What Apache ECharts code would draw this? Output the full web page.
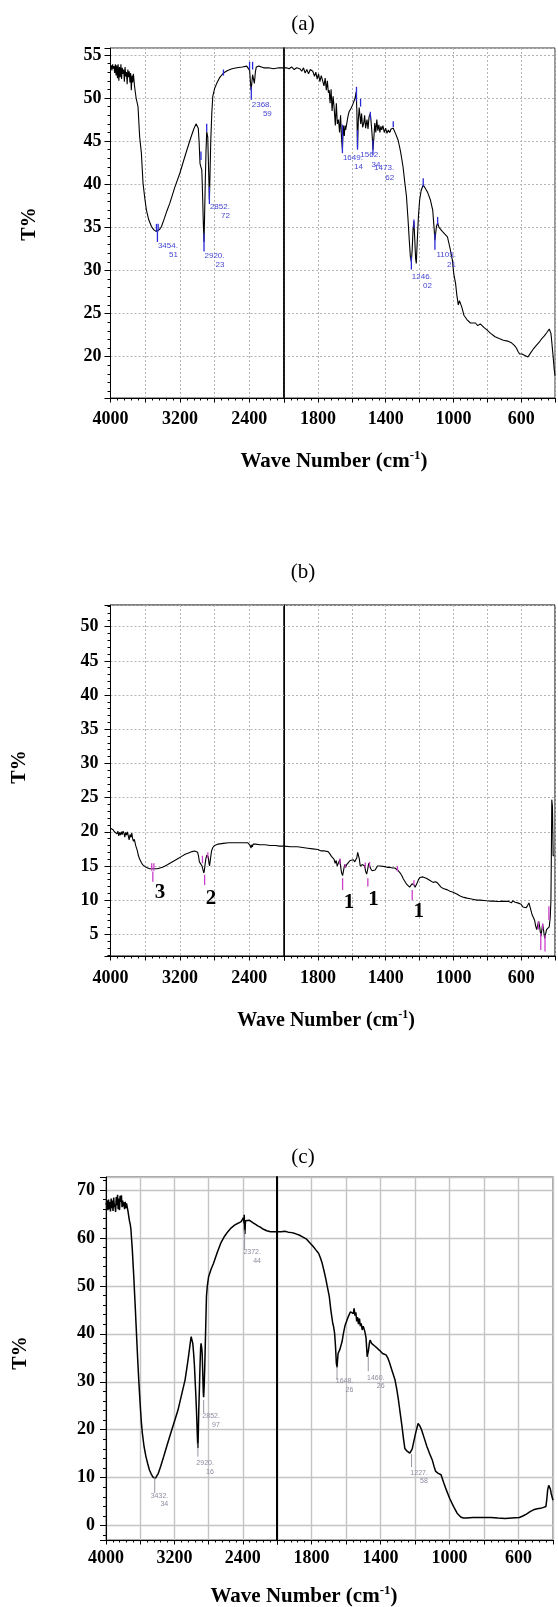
<!DOCTYPE html>
<html><head><meta charset="utf-8">
<script src="https://cdn.jsdelivr.net/npm/echarts@6/dist/echarts.min.js"></script>
<style>html,body{margin:0;padding:0;background:#fff}#c{width:558px;height:1607px}</style>
</head><body><div id="c"></div>
<script>
// ---------- DATA ----------
// x tick labels shown
const leftTickLabels = [4000, 3200, 2400];
const rightTickLabels = [1800, 1400, 1000, 600];
const panelTitles = ['(a)', '(b)', '(c)'];
const yTitle = 'T%';
const xTitle = 'Wave Number (cm';

// Spectrum (a): [wavenumber, T%]
const specA = [
[4000,53.5],[3992,53.8],[3984,53.2],[3976,53.9],[3968,53.4],[3960,53.7],[3952,52.9],[3944,53.9],[3936,52.6],[3928,53.8],[3920,52.3],[3912,53.9],[3904,52.0],[3896,53.6],[3888,52.4],[3880,53.9],[3872,52.2],[3864,53.5],[3856,52.8],[3848,53.3],[3840,51.9],[3832,53.6],[3824,52.5],[3816,53.0],[3808,51.6],[3800,53.3],[3792,52.4],[3784,53.1],[3776,51.8],[3768,52.9],[3760,50.9],[3752,52.6],[3744,51.8],[3736,52.8],[3722,51.3],[3705,50.0],[3683,49.0],[3664,45.5],[3644,43.6],[3625,40.1],[3605,38.4],[3586,37.0],[3560,35.9],[3528,35.1],[3500,34.7],[3470,34.5],[3450,34.5],[3430,34.8],[3412,35.1],[3380,36.0],[3350,36.9],[3316,37.8],[3260,39.6],[3200,41.3],[3140,43.3],[3084,45.1],[3040,46.4],[3014,47.0],[2998,46.9],[2988,46.5],[2978,44.8],[2968,42.4],[2958,42.0],[2948,41.7],[2942,40.0],[2937,38.2],[2930,35.5],[2922,33.3],[2915,36.5],[2907,40.5],[2899,43.8],[2891,46.1],[2885,46.2],[2879,45.5],[2870,42.0],[2860,38.2],[2852,41.5],[2844,45.1],[2832,48.3],[2821,50.2],[2800,51.1],[2775,51.7],[2740,52.4],[2698,52.9],[2650,53.2],[2600,53.4],[2543,53.5],[2480,53.6],[2430,53.7],[2408,53.6],[2396,53.2],[2388,52.0],[2380,50.9],[2372,51.6],[2362,52.7],[2352,52.6],[2342,51.7],[2330,53.0],[2319,53.6],[2290,53.7],[2260,53.6],[2234,53.5],[2180,53.5],[2120,53.4],[2060,53.5],[2000,53.5],
[1985,53.5],[1970,53.4],[1955,53.6],[1940,53.3],[1925,53.5],[1907,53.4],[1895,53.1],[1885,53.5],[1875,52.9],[1865,53.3],[1855,52.8],[1845,53.3],[1830,53.1],[1820,52.5],[1812,53.0],[1804,52.2],[1796,52.8],[1788,51.9],[1780,52.6],[1771,52.5],[1764,51.4],[1757,52.3],[1750,50.9],[1744,52.0],[1738,50.6],[1733,50.9],[1728,49.4],[1722,51.0],[1716,48.5],[1710,50.2],[1703,48.6],[1697,46.8],[1691,49.4],[1685,47.0],[1678,47.5],[1672,46.0],[1666,48.0],[1660,45.2],[1655,44.0],[1650,46.8],[1644,45.6],[1640,46.8],[1636,46.3],[1628,47.2],[1622,47.9],[1616,48.4],[1604,48.8],[1595,49.2],[1587,49.0],[1580,50.0],[1574,50.7],[1570,48.6],[1566,44.2],[1561,47.5],[1556,48.9],[1552,49.0],[1547,47.0],[1542,48.2],[1536,46.6],[1529,47.1],[1524,48.0],[1518,46.5],[1510,47.5],[1504,46.4],[1498,47.8],[1490,48.2],[1484,46.8],[1479,45.5],[1475,44.0],[1470,45.2],[1464,47.1],[1458,46.0],[1452,47.5],[1446,46.2],[1440,46.9],[1434,46.0],[1428,46.7],[1423,46.3],[1416,46.8],[1408,46.0],[1400,46.5],[1392,45.9],[1384,46.3],[1376,46.0],[1368,46.4],[1360,46.2],[1355,46.5],[1342,45.9],[1326,45.1],[1312,43.8],[1297,42.0],[1288,40.4],[1277,38.6],[1268,36.0],[1260,33.4],[1254,31.6],[1248,31.0],[1243,32.5],[1238,34.8],[1233,35.7],[1228,33.6],[1223,31.4],[1219,30.8],[1213,33.5],[1206,36.4],[1199,38.2],[1190,39.3],[1178,39.9],[1165,39.5],[1151,39.0],[1136,38.2],[1122,37.0],[1115,35.2],[1109,33.5],[1100,35.1],[1093,35.5],[1085,35.0],[1075,34.8],[1064,34.5],[1050,34.2],[1035,33.9],[1020,32.6],[1006,31.2],[997,29.5],[987,28.5],[980,27.2],[971,26.0],[964,26.5],[957,26.5],[948,25.6],[938,24.8],[920,24.3],[899,23.9],[884,23.9],[870,23.9],[856,23.6],[841,23.8],[820,23.4],[802,23.1],[780,22.7],[754,22.3],[730,22.1],[705,21.9],[680,21.8],[657,21.6],[640,21.3],[628,21.0],[618,20.6],[609,20.3],[595,20.3],[575,20.1],[560,19.95],[545,20.4],[531,20.8],[510,21.3],[492,21.7],[478,22.1],[463,22.4],[448,22.8],[434,23.2],[428,23.1],[424,22.7],[418,21.5],[411,20.0],[405,18.6],[400,17.8]
];
// Peak marker lines (a): [wavenumber, T top, T bottom]
const marksA = [
[3470,35.4,34.5],[3451,35.4,34.5],[3459,34.5,33.3],[2957,43.8,42.8],[2891,47.0,46.1],[2922,34.3,32.2],[2860,39.7,37.7],
[2698,53.3,52.6],[2397,54.2,53.3],[2362,54.2,53.3],[2377,51.3,49.8],
[1655,46.9,43.6],[1572,51.3,49.6],[1548,49.9,49.0],[1566,46.3,44.0],[1490,48.4,47.5],[1475,45.1,43.4],[1355,47.3,46.6],
[1248,31.6,30.1],[1233,35.9,34.9],[1178,40.7,39.7],[1109,34.3,32.4],[1093,36.2,35.3]
];
// Peak labels (a): [wavenumber, T (top of text), line1, line2]
const labelsA = [
[3459,33.4,'3454.','51'],[2922,32.2,'2920.','23'],[2860,37.9,'2852.','72'],[2377,49.8,'2368.','59'],
[1655,43.6,'1649.','14'],[1552,43.9,'1562.','34'],[1471,42.4,'1473.','62'],[1248,29.8,'1246.','02'],[1106,32.3,'1105.','21']
];

// Spectrum (b)
const specB = [
[4000,20.5],[3985,20.4],[3970,20.3],[3955,20.0],[3940,20.2],[3925,19.7],[3915,20.1],[3905,19.4],[3895,19.9],[3885,19.5],[3875,20.0],[3865,19.6],[3855,20.1],[3845,19.8],[3835,19.2],[3825,19.9],[3815,19.5],[3805,20.0],[3795,19.4],[3785,18.8],[3775,19.6],[3765,19.2],[3755,19.8],[3745,19.0],[3735,18.6],[3725,18.9],[3710,18.0],[3700,17.6],[3690,17.2],[3680,16.6],[3670,16.2],[3660,15.9],[3645,15.5],[3630,15.2],[3610,15.0],[3590,14.8],[3570,14.7],[3550,14.6],[3520,14.6],[3490,14.6],[3460,14.6],[3430,14.7],[3400,14.8],[3370,15.0],[3340,15.2],[3300,15.5],[3260,15.8],[3220,16.1],[3180,16.4],[3140,16.7],[3100,16.9],[3060,17.1],[3030,17.2],[3010,17.2],[2995,17.0],[2985,16.4],[2975,15.6],[2965,15.8],[2955,15.4],[2945,15.0],[2935,14.5],[2925,14.0],[2918,14.3],[2910,15.2],[2900,16.1],[2890,16.6],[2880,16.7],[2872,16.3],[2865,15.4],[2858,15.0],[2852,15.1],[2845,16.3],[2835,17.2],[2820,17.7],[2800,18.0],[2760,18.2],[2700,18.3],[2640,18.4],[2580,18.4],[2520,18.4],[2460,18.4],[2420,18.4],[2400,18.3],[2390,18.0],[2380,17.6],[2372,18.1],[2365,17.8],[2355,18.2],[2330,18.2],[2280,18.1],[2220,18.1],[2160,18.0],[2100,18.0],[2050,17.9],[2000,17.9],
[1960,17.8],[1920,17.8],[1890,17.7],[1860,17.6],[1830,17.5],[1800,17.4],[1780,17.2],[1760,17.2],[1750,17.0],[1740,17.1],[1730,16.8],[1720,16.4],[1712,16.6],[1705,16.0],[1698,15.4],[1692,15.8],[1686,15.0],[1680,14.9],[1676,15.6],[1670,16.0],[1665,14.8],[1660,14.0],[1654,13.6],[1648,14.4],[1642,15.2],[1636,14.8],[1630,15.2],[1620,15.5],[1610,15.8],[1600,16.0],[1590,15.9],[1582,15.6],[1576,15.4],[1570,16.2],[1565,17.0],[1560,16.9],[1555,16.0],[1550,15.0],[1545,14.8],[1538,15.2],[1530,15.4],[1524,15.0],[1518,14.2],[1512,13.8],[1506,14.5],[1500,15.4],[1494,15.2],[1488,14.6],[1480,14.3],[1470,14.4],[1462,14.4],[1455,14.7],[1448,15.0],[1440,15.1],[1430,15.0],[1420,14.9],[1405,14.9],[1390,14.8],[1375,14.8],[1360,14.7],[1345,14.7],[1335,14.6],[1325,14.3],[1315,14.0],[1305,13.6],[1295,13.1],[1285,12.7],[1275,12.3],[1265,12.1],[1258,11.9],[1250,12.0],[1244,12.4],[1238,12.6],[1232,12.2],[1226,11.9],[1220,12.0],[1214,12.5],[1206,13.0],[1198,13.3],[1190,13.4],[1180,13.4],[1170,13.3],[1160,13.2],[1151,13.2],[1140,12.9],[1130,12.7],[1120,12.6],[1112,12.5],[1105,12.7],[1100,12.5],[1093,12.5],[1085,12.3],[1073,11.9],[1060,11.7],[1050,11.6],[1035,11.5],[1020,11.3],[1005,11.2],[996,11.1],[980,10.9],[960,10.6],[938,10.4],[920,10.3],[900,10.2],[880,10.1],[860,10.0],[840,10.0],[820,9.95],[802,9.9],[780,9.85],[760,9.85],[740,9.8],[725,9.8],[710,9.85],[695,9.8],[685,9.9],[676,9.85],[668,9.7],[657,9.6],[650,9.9],[642,10.0],[635,9.7],[628,9.45],[620,9.6],[609,9.8],[600,9.4],[589,9.0],[580,8.9],[570,8.9],[562,9.2],[554,9.6],[545,8.8],[535,7.85],[528,7.6],[521,7.1],[514,6.2],[508,5.7],[502,6.4],[496,6.9],[490,6.0],[483,4.7],[478,5.6],[473,6.5],[467,5.5],[461,4.4],[456,5.0],[450,5.7],[442,5.9],[434,6.1],[428,7.5],[424,10.0],[421,18.0],[419,24.7],[415,23.7],[411,16.5],[405,16.5]
];
const marksB = [
[3525,15.4,14.3],[3500,15.4,14.3],[3512,14.2,12.7],[2940,16.5,15.4],[2915,13.7,12.2],[2878,17.0,16.1],
[1670,16.1,15.2],[1654,13.2,11.5],[1639,15.3,14.7],[1520,15.5,14.7],[1505,13.2,12.0],[1495,15.6,14.8],[1330,15.0,14.2],
[1243,11.5,10.0],[1233,12.9,12.1],[498,6.9,5.7],[484,5.2,2.7],[473,6.6,5.7],[459,4.9,2.5],[436,9.1,7.1]
];
// band numbers (b): [wavenumber, T, text]
const bandsB = [[3428,11.05,'3'],[2841,10.3,'2'],[1616,9.7,'1'],[1472,10.05,'1'],[1204,8.3,'1']];

// Spectrum (c)
const specC = [
[4000,66.9],[3992,66.5],[3985,67.8],[3978,65.8],[3970,68.0],[3962,66.0],[3955,67.5],[3948,65.5],[3940,68.2],[3932,66.2],[3925,67.8],[3918,65.6],[3910,68.4],[3902,66.4],[3895,67.0],[3888,65.4],[3880,68.5],[3872,66.8],[3865,69.0],[3858,66.0],[3850,68.2],[3842,65.8],[3835,68.8],[3828,67.5],[3820,68.9],[3812,66.4],[3805,67.8],[3798,66.6],[3790,67.4],[3783,66.0],[3775,67.5],[3768,66.2],[3760,67.2],[3750,66.9],[3742,65.5],[3733,64.4],[3725,63.5],[3716,62.8],[3708,61.7],[3700,59.5],[3692,57.5],[3684,54.8],[3675,51.9],[3666,48.5],[3658,45.7],[3648,41.8],[3638,38.0],[3628,34.2],[3617,30.4],[3606,27.0],[3596,24.1],[3586,21.5],[3575,19.3],[3555,16.5],[3533,14.4],[3512,12.9],[3492,11.6],[3470,10.7],[3450,10.1],[3430,9.9],[3421,9.9],[3405,10.3],[3388,10.9],[3360,12.4],[3325,14.4],[3285,16.8],[3242,19.3],[3200,21.7],[3158,24.1],[3117,27.2],[3075,30.4],[3040,34.6],[3015,38.0],[3004,39.4],[2995,39.2],[2985,38.0],[2975,35.9],[2966,33.5],[2958,30.4],[2950,27.5],[2942,24.1],[2935,20.5],[2928,17.0],[2925,16.2],[2920,19.5],[2915,24.0],[2908,28.3],[2900,33.5],[2893,37.2],[2888,38.0],[2880,37.0],[2875,35.9],[2868,31.5],[2862,27.8],[2858,26.8],[2852,29.0],[2846,32.5],[2842,35.3],[2835,40.5],[2825,47.8],[2815,50.0],[2800,51.9],[2770,53.5],[2742,54.7],[2700,56.9],[2658,58.9],[2615,60.3],[2575,61.3],[2535,62.1],[2492,62.7],[2450,63.1],[2420,63.4],[2400,63.3],[2392,64.2],[2386,63.0],[2383,64.8],[2379,61.5],[2375,60.8],[2371,62.8],[2367,63.6],[2360,63.3],[2345,63.8],[2325,63.7],[2300,63.4],[2275,63.1],[2250,62.8],[2225,62.5],[2200,62.3],[2158,61.8],[2120,61.5],[2075,61.3],[2040,61.3],[2000,61.3],
[1975,61.3],[1955,61.4],[1935,61.2],[1914,61.1],[1895,60.9],[1872,60.6],[1852,60.2],[1831,59.8],[1810,59.0],[1790,58.2],[1775,57.5],[1759,56.8],[1748,55.8],[1738,54.7],[1728,53.2],[1718,51.6],[1708,49.8],[1697,47.8],[1688,45.0],[1682,43.5],[1677,42.2],[1672,41.5],[1666,40.1],[1661,37.5],[1656,33.9],[1652,33.0],[1646,35.9],[1640,35.5],[1635,36.8],[1629,36.6],[1622,38.5],[1615,40.1],[1605,41.8],[1594,42.9],[1584,43.8],[1574,44.6],[1564,45.0],[1558,44.2],[1553,45.3],[1548,43.8],[1543,44.5],[1538,42.6],[1533,43.5],[1528,42.0],[1522,43.2],[1517,41.6],[1512,42.2],[1506,40.8],[1500,41.6],[1491,40.5],[1484,39.2],[1477,35.2],[1470,36.5],[1464,38.2],[1460,38.7],[1452,38.0],[1444,38.4],[1432,37.4],[1419,37.0],[1404,36.5],[1388,35.9],[1378,35.8],[1368,35.6],[1358,35.0],[1347,33.9],[1332,32.2],[1316,30.4],[1306,28.5],[1296,26.2],[1286,23.5],[1275,20.6],[1267,18.2],[1259,16.1],[1248,15.6],[1238,15.4],[1230,15.1],[1224,15.0],[1216,16.0],[1209,17.2],[1195,19.5],[1182,21.3],[1172,20.8],[1162,20.0],[1147,18.3],[1131,16.5],[1115,15.0],[1100,13.7],[1090,12.4],[1080,11.3],[1065,10.9],[1049,10.6],[1034,9.0],[1018,7.4],[998,5.6],[977,4.0],[956,2.6],[935,1.8],[920,1.6],[904,1.6],[863,1.7],[820,1.7],[760,1.7],[720,1.6],[678,1.5],[640,1.6],[595,1.7],[575,2.0],[554,2.4],[533,2.9],[513,3.3],[492,3.5],[472,3.6],[455,3.8],[441,4.0],[436,5.5],[431,7.4],[425,8.4],[420,8.8],[415,7.6],[410,6.6],[400,5.3]
];
const marksC = [[3430,10.2,6.8],[2925,17.2,14.4],[2858,26.2,23.5],[2379,61.7,57.5],[1652,33.2,30.4],[1471,35.3,32.2],[1220,14.9,12.2]];
const labelsC = [
[3471,7.1,'3432.','34'],[2937,13.8,'2920.','16'],[2867,23.6,'2852.','97'],[2387,57.8,'2372.','44'],
[1656,30.9,'1648.','26'],[1475,31.6,'1460.','26'],[1224,11.8,'1227.','58']
];

// ---------- CHART ----------
const SERIF = '"Liberation Serif","Times New Roman",serif';
const SANS = '"Liberation Sans",Arial,sans-serif';
const chart = echarts.init(document.getElementById('c'), null, {renderer:'canvas'});

const panels = [
  {top:48, height:350, left:110.5, brk:284, right:559, ymin:15.2, ymax:55.8, step:5, ylow:20, minor:5, xMargin:12, yMargin:9, border:'#333', brkW:1.6, rightBorder:'#333', lw:1.1},
  {top:605, height:351, left:110.5, brk:284, right:559, ymin:1.83, ymax:53.17, step:5, ylow:5, minor:5, xMargin:13, yMargin:12, border:'#000', brkW:1, rightBorder:'#000', lw:1.1},
  {top:1177, height:363, left:106, brk:277, right:553, ymin:-3.0, ymax:72.7, step:10, ylow:0, minor:5, xMargin:9, yMargin:11, border:'#444', brkW:2, rightBorder:'#888', lw:1.5}
];

const grids = [], xAxes = [], yAxes = [], series = [];
const gridLineStyle = [{color:'#b4b4b4', type:[2,2], width:1},{color:'#b4b4b4', type:[2,2], width:1},{color:'#c4c4c4', type:'solid', width:1.4}];

panels.forEach((p, pi) => {
  // left grid (4000-2000), right grid (2000-400)
  grids.push({left:p.left, top:p.top, width:p.brk-p.left, height:p.height, show:true, borderColor:p.border, borderWidth:1, containLabel:false});
  grids.push({left:p.brk, top:p.top, width:p.right-p.brk, height:p.height, show:true, borderColor:p.rightBorder, borderWidth: pi===2?1.5:1, containLabel:false});
  const gL = pi*2, gR = pi*2+1;
  const xl = {
    axisLine:{show:true, onZero:false, lineStyle:{color:'#000', width:1}},
    axisTick:{show:true, length:4.5, lineStyle:{color:'#000', width:1}},
    minorTick:{show:true, splitNumber:5, length:2.5, lineStyle:{color:'#000', width:1}},
    splitLine:{show:true, lineStyle:gridLineStyle[pi]},
    minorSplitLine:{show:false}
  };
  const lblStyle = {color:'#000', fontFamily:SERIF, fontWeight:'bold', fontSize:18, margin:p.xMargin, showMinLabel:true, showMaxLabel:true};
  xAxes.push(Object.assign({type:'value', gridIndex:gL, min:2000, max:4000, interval:400, inverse:true,
    axisLabel:Object.assign({formatter:v => leftTickLabels.includes(v) ? String(v) : ''}, lblStyle)}, xl));
  xAxes.push(Object.assign({type:'value', gridIndex:gR, min:400, max:2000, interval:200, inverse:true,
    axisLabel:Object.assign({formatter:v => rightTickLabels.includes(v) ? String(v) : ''}, lblStyle)}, xl));
  const yBase = {type:'value', min:p.ymin, max:p.ymax, minInterval:p.step, maxInterval:p.step, splitNumber:Math.round((p.ymax-p.ymin)/p.step),
    splitLine:{show:true, lineStyle:gridLineStyle[pi]}};
  yAxes.push(Object.assign({}, yBase, {gridIndex:gL,
    axisLine:{show:true, onZero:false, lineStyle:{color:'#000', width:1}},
    axisTick:{show:true, length:6, lineStyle:{color:'#000'}},
    minorTick:{show:true, splitNumber:p.minor, length:3, lineStyle:{color:'#000'}},
    axisLabel:{show:true, margin:p.yMargin, color:'#000', fontFamily:SERIF, fontWeight:'bold', fontSize:18,
      formatter:v => (Math.abs(v/p.step - Math.round(v/p.step))<1e-6 && v>=p.ylow) ? String(Math.round(v)) : ''}}));
  yAxes.push(Object.assign({}, yBase, {gridIndex:gR,
    axisLine:{show:true, onZero:false, lineStyle:{color:'#000', width:p.brkW}},
    axisTick:{show:false}, minorTick:{show:false}, axisLabel:{show:false}}));
});

function lineSeries(spec, pi, lw) {
  series.push({type:'line', xAxisIndex:pi*2, yAxisIndex:pi*2, data:spec.filter(d=>d[0]>=2000), showSymbol:false, symbol:'none',
    lineStyle:{color:'#000', width:lw}, animation:false, z:5, silent:true});
  series.push({type:'line', xAxisIndex:pi*2+1, yAxisIndex:pi*2+1, data:spec.filter(d=>d[0]<=2000), showSymbol:false, symbol:'none',
    lineStyle:{color:'#000', width:lw}, animation:false, z:5, silent:true});
}
function markSeries(marks, pi, color, w) {
  [0,1].forEach(side => {
    const data = marks.filter(m => side===0 ? m[0]>=2000 : m[0]<2000);
    series.push({type:'custom', xAxisIndex:pi*2+side, yAxisIndex:pi*2+side, data, z:6, silent:true, animation:false,
      encode:{x:0, y:[1,2]},
      renderItem:(params, api) => {
        const a = api.coord([api.value(0), api.value(1)]);
        const b = api.coord([api.value(0), api.value(2)]);
        return {type:'line', shape:{x1:a[0], y1:a[1], x2:b[0], y2:b[1]}, style:{stroke:color, lineWidth:w}};
      }});
  });
}
function peakLabelSeries(labels, pi, color, size, shift) {
  [0,1].forEach(side => {
    const data = labels.filter(m => side===0 ? m[0]>=2000 : m[0]<2000);
    series.push({type:'custom', xAxisIndex:pi*2+side, yAxisIndex:pi*2+side, data:data.map(d=>[d[0], d[1]]), z:7, silent:true, animation:false,
      clip:false,
      renderItem:(params, api) => {
        const d = data[params.dataIndex];
        const a = api.coord([d[0], d[1]]);
        return {type:'text', x:a[0]+shift, y:a[1], style:{text:d[2]+'\n'+d[3], fill:color, font:size+'px '+SANS, align:'right', verticalAlign:'top', lineHeight:size+1.2}};
      }});
  });
}
function bandSeries(bands, pi) {
  [0,1].forEach(side => {
    const data = bands.filter(m => side===0 ? m[0]>=2000 : m[0]<2000);
    series.push({type:'custom', xAxisIndex:pi*2+side, yAxisIndex:pi*2+side, data:data.map(d=>[d[0], d[1]]), z:7, silent:true, animation:false,
      renderItem:(params, api) => {
        const d = data[params.dataIndex];
        const a = api.coord([d[0], d[1]]);
        return {type:'text', x:a[0], y:a[1], style:{text:d[2], fill:'#000', font:'bold 21px '+SERIF, align:'center', verticalAlign:'middle'}};
      }});
  });
}

lineSeries(specA, 0, panels[0].lw); lineSeries(specB, 1, panels[1].lw); lineSeries(specC, 2, panels[2].lw);
markSeries(marksA, 0, '#2a2ad8', 1.3);
markSeries(marksB, 1, '#cc3fcc', 1.3);
markSeries(marksC, 2, '#8a8a96', 0.9);
peakLabelSeries(labelsA, 0, '#4646d2', 8, 20.5);
peakLabelSeries(labelsC, 2, '#8c8ca0', 7, 17);
bandSeries(bandsB, 1);

const titlePos = [[303,24],[303,572],[303,1157]];
const yNamePos = [[30,224],[20,767],[21,1353]];
const xNamePos = [[334,462,21],[326,1021,20],[304,1597,21]];
const graphic = [];
panelTitles.forEach((t,i) => {
  graphic.push({type:'text', x:titlePos[i][0], y:titlePos[i][1], style:{text:t, font:'21px '+SERIF, fill:'#000', align:'center', verticalAlign:'middle'}});
  graphic.push({type:'text', x:yNamePos[i][0], y:yNamePos[i][1], rotation:Math.PI/2,
    style:{text:yTitle, font:'bold 20px '+SERIF, fill:'#000', align:'center', verticalAlign:'middle'}});
  const fs = xNamePos[i][2];
  graphic.push({type:'text', x:xNamePos[i][0], y:xNamePos[i][1],
    style:{text:xTitle+'{s|-1}'+')', font:'bold '+fs+'px '+SERIF, fill:'#000', align:'center', verticalAlign:'middle', lineHeight:fs+4,
      rich:{s:{font:'bold '+Math.round(fs*0.6)+'px '+SERIF, fill:'#000', verticalAlign:'top', lineHeight:Math.round(fs*0.6), padding:[0,0,0,0]}}}});
});

chart.setOption({animation:false, backgroundColor:'#fff', grid:grids, xAxis:xAxes, yAxis:yAxes, series, graphic});
</script></body></html>
